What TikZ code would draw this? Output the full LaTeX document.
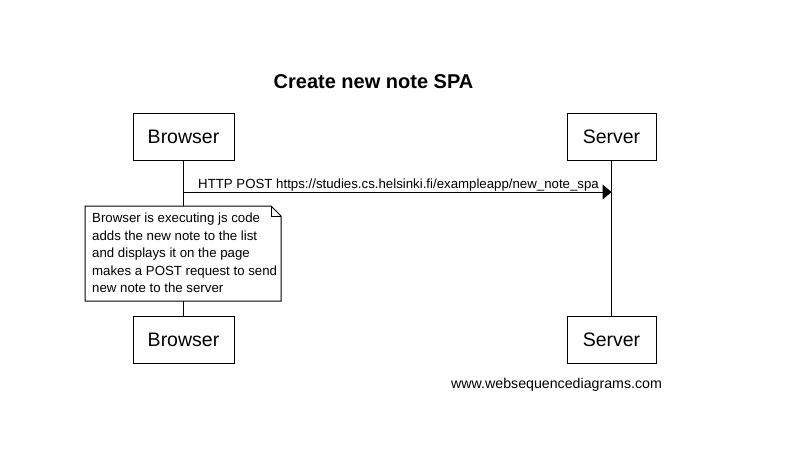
\documentclass[tikz,border=0pt]{standalone}
\usepackage{fontspec}
\setmainfont{Liberation Sans}
\usetikzlibrary{arrows.meta}
\begin{document}
\begin{tikzpicture}[x=1pt,y=-1pt,
  actor/.style={draw,line width=1pt,minimum width=101pt,minimum height=47pt,inner sep=0pt,font=\fontsize{19.5}{22}\selectfont},
  msg/.style={line width=1pt,-{Triangle[length=9pt,width=15pt]}},
  lbl/.style={font=\fontsize{13.25}{15}\selectfont,inner sep=0pt,anchor=base west},
  life/.style={line width=1pt}]
\useasboundingbox (0,0) rectangle (806,474);
\node[font=\bfseries\fontsize{20}{22}\selectfont,anchor=base] (title) at (373.5,88) {Create new note SPA};
\node[actor] (b1) at (183.5,136.5) {Browser};
\node[actor,minimum width=89pt] (s1) at (611.5,136.5) {Server};
\node[actor] (b2) at (183.5,339.5) {Browser};
\node[actor,minimum width=89pt] (s2) at (611.5,339.5) {Server};
\draw[life] (b1.south) -- (b2.north);
\draw[life] (s1.south) -- (s2.north);
\coordinate (a1) at (b1.south |- 0,192);
\coordinate (a2) at (s1.south |- 0,192);
\draw[msg] (a1) -- (a2);
\node[lbl] (m1) at (198,188) {HTTP POST https://studies.cs.helsinki.fi/exampleapp/new\_note\_spa};
\draw[line width=1pt,fill=white] (85,206) -- (271,206) -- (281,216) -- (281,301) -- (85,301) -- cycle;
\draw[line width=0.8pt] (271,206) -- (271,216) -- (281,216);
\node[font=\fontsize{13.25}{17.5}\selectfont,align=left,anchor=north west,inner sep=0pt] (note) at (92,213)
  {Browser is executing js code\\adds the new note to the list\\and displays it on the page\\makes a POST request to send\\new note to the server};
\node[font=\fontsize{14.2}{16}\selectfont,anchor=base west,inner sep=0pt] (wsd) at (451,388) {www.websequencediagrams.com};
\end{tikzpicture}
\end{document}
